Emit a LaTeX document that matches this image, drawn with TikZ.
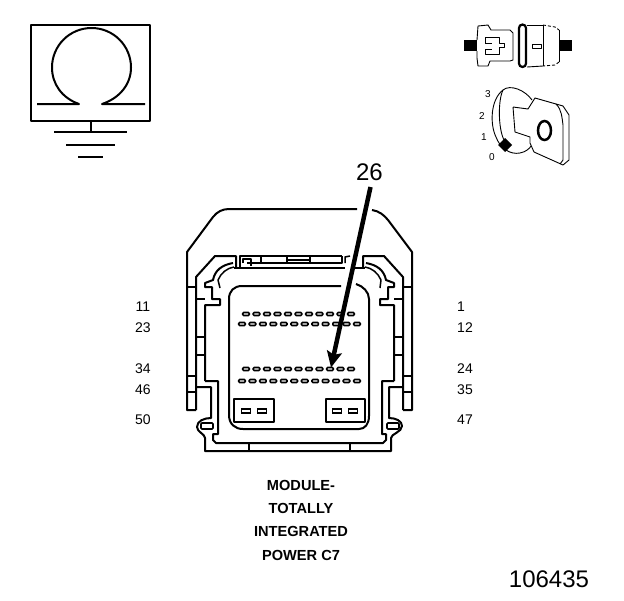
\documentclass[tikz,border=0pt]{standalone}
\usepackage{fontspec}
\setmainfont{Liberation Sans}
\usetikzlibrary{arrows.meta}
\tikzset{
  x=1pt,y=-1pt,
  line/.style={line width=2pt,black,line join=round},
  slot line/.style={line width=1.5pt,black,line join=round},
  thin line/.style={line width=0.9pt,black,line join=round},
  pinlabel/.style={font=\fontsize{14}{14}\selectfont,inner sep=0pt,anchor=center},
  title/.style={font=\fontsize{14.6}{14.6}\selectfont\bfseries,inner sep=0pt,anchor=center},
  big/.style={font=\fontsize{24}{24}\selectfont,inner sep=0pt,anchor=center},
  keynum/.style={font=\fontsize{10}{10}\selectfont,inner sep=0pt,anchor=center},
  pinhole/.style={draw=black,line width=1.6pt,fill=white,rounded corners=1pt,minimum width=6.5pt,minimum height=3pt,inner sep=0pt},
  bigpin/.style={draw=black,line width=1.6pt,fill=white,minimum width=9pt,minimum height=4.5pt,inner sep=0pt},
}
\begin{document}
\begin{tikzpicture}
\useasboundingbox (0,0) rectangle (624,600);
\fill[white] (0,0) rectangle (624,600);
% omega / ground
\draw[line] (31,25) rectangle (150,121);
\draw[line] (37,104) -- (79,104) .. controls (62,98) and (52,84) .. (52,67.5) arc[start angle=180,end angle=360,radius=39.5] .. controls (131,84) and (120,98) .. (102,104) -- (145,104);
\draw[line] (91,121) -- (91,132);
\draw[line] (54,132) -- (127,132);
\draw[line] (66,145) -- (115,145);
\draw[line] (78,157) -- (103,157);
% key switch
\fill (464,40) rectangle (477,51);
\fill (559,40) rectangle (572,51);
\draw[thin line] (477,40) -- (478,26) -- (488,25) -- (491,30) -- (510,30) -- (513,33) -- (513,60) -- (510,61) -- (490,61) -- (488,66) -- (478,66) -- (477,58) -- (477,51);
\draw[thin line] (485,44) -- (485,37) -- (499,37) -- (499,43) -- (504,43) -- (504,47) -- (499,47) -- (499,54) -- (485,54) -- (485,49) -- (492,49);
\draw[thin line] (485,43) -- (492,43);
\draw[line width=2.2pt,rounded corners=3.5pt] (519,24.5) rectangle (526,67);
\draw[thin line] (527,25) -- (543,25);
\draw[thin line,densely dashed] (543,25) -- (555,27) -- (559,30);
\draw[thin line] (559,30) -- (559,62);
\draw[thin line,densely dashed] (559,62) -- (555,65) -- (543,66);
\draw[thin line] (543,66) -- (527,67);
\draw[thin line] (543,25) -- (543,66);
\draw[thin line] (532,44) rectangle (541,48);
% ignition
\draw[thin line] (532,100) .. controls (525,90) and (510,84) .. (503,90) .. controls (490,100) and (490,125) .. (496,137) .. controls (500,148) and (510,155) .. (520,153) .. controls (526,152) and (530,148) .. (531,146);
\draw[thin line] (503,90) .. controls (498,100) and (498,128) .. (504,140);
\draw[thin line] (513,107) -- (528,109) -- (535,98) -- (563,106) -- (569,115) -- (569,160) -- (563,165) -- (534,152) -- (530,143) -- (530,137) -- (515,132) -- (513,107);
\draw[thin line] (556,104) .. controls (562,110) and (562,118) .. (563,125) -- (563,160) -- (560,164);
\draw[line width=2.5pt] (544.5,130.5) ellipse[x radius=6.5,y radius=9.5];
\fill (505,138) -- (512,145) -- (505,152) -- (498,145) -- cycle;
\node[keynum] (k3) at (488,94) {3};
\node[keynum] (k2) at (482,116) {2};
\node[keynum] (k1) at (484,137) {1};
\node[keynum] (k0) at (492,157) {0};
% connector outer shell
\draw[line] (196,410) -- (187,410) -- (187,252) -- (213,217) .. controls (217,212) and (222,209) .. (229,209) -- (357,209);
\draw[line] (372,210) .. controls (379,211) and (384,215) .. (388,220) -- (412,252) -- (412,410) -- (403,410);
\draw[line] (196,410) -- (196,277) -- (215,256) -- (236,256) -- (236,268);
\draw[line] (403,410) -- (403,277) -- (384,256) -- (363,256) -- (363,268);
% cross lines
\draw[line] (187,287) -- (196,287);
\draw[line] (196,299) -- (205,299);
\draw[line] (196,337) -- (205,337);
\draw[line] (196,355) -- (205,355);
\draw[line] (187,376) -- (196,376);
\draw[line] (187,392) -- (196,392);
\draw[line] (403,287) -- (412,287);
\draw[line] (394,299) -- (403,299);
\draw[line] (394,337) -- (403,337);
\draw[line] (394,355) -- (403,355);
\draw[line] (403,376) -- (412,376);
\draw[line] (403,392) -- (412,392);
% inner strip lines
\draw[line] (205,381) -- (205,305) -- (220,305) -- (220,299) -- (212,299) -- (212,287) -- (205,287) -- (205,283) -- (213,280) .. controls (215,270) and (222,265) .. (233,263);
\draw[line] (394,381) -- (394,305) -- (380,305) -- (380,299) -- (388,299) -- (388,287) -- (394,287) -- (394,283) -- (386,280) .. controls (384,270) and (377,265) .. (366,263);
\draw[slot line] (220,288) -- (218,280) .. controls (221,273) and (227,268) .. (234,267);
\draw[slot line] (380,288) -- (381,280) .. controls (378,273) and (372,268) .. (365,267);
% top slot
\draw[line] (234,268) -- (345,268);
\draw[line] (354,268) -- (365,268);
\draw[slot line] (240,268) -- (240,256) -- (342,256);
\draw[slot line] (243,263) -- (243,259) -- (251,259) -- (251,266);
\draw[slot line] (247,263) -- (251,263);
\draw[slot line] (261,257) -- (261,263);
\draw[slot line] (252,263) -- (342,263) -- (342,256);
\draw[slot line] (345,263) -- (345,257) -- (350,256);
\draw[slot line] (287,256) rectangle (310,263);
\draw[slot line] (287,260) -- (310,260);
% cavity
\draw[line] (341,286) -- (242,286) .. controls (234,286) and (229,291) .. (229,299) -- (229,415) .. controls (229,424) and (235,429) .. (243,429) -- (359,429) .. controls (365,429) and (369,424) .. (369,416) -- (369,299) .. controls (369,292) and (363,286) .. (356,284);
% lower shell
\draw[line] (205,381) -- (218,381) -- (218,434) -- (213,434) -- (213,440) -- (216,443) -- (383,443) -- (386,440) -- (386,434) -- (382,434) -- (382,381) -- (394,381);
\draw[line] (196,387) -- (211,387) -- (211,418) .. controls (204,418) and (197,421) .. (197,427) .. controls (197,432) and (205,434) .. (205,438) -- (205,451) -- (391,451) -- (391,438) .. controls (391,434) and (402,432) .. (402,426) .. controls (402,421) and (396,418) .. (389,418) -- (389,387) -- (403,387);
\draw[line] (249,443) -- (249,451);
\draw[line] (350,443) -- (350,451);
\draw[line width=1.6pt,rounded corners=1pt] (201,423) rectangle (213,429);
\draw[line width=1.6pt,rounded corners=1pt] (387,423) rectangle (399,429);
% pin rows
\foreach \i in {0,...,10} {
  \node[pinhole] (a\i) at (246+10.5*\i,314) {};
  \node[pinhole] (c\i) at (246+10.5*\i,369) {};
}
\foreach \i in {0,...,11} {
  \node[pinhole] (b\i) at (242+10.45*\i,324) {};
  \node[pinhole] (d\i) at (242+10.45*\i,381) {};
}
% big pin boxes
\draw[line] (234,399) rectangle (274,422);
\draw[line] (326,399) rectangle (365,422);
\node[bigpin] (p1) at (246,411) {};
\node[bigpin] (p2) at (262,411) {};
\node[bigpin] (p3) at (337,411) {};
\node[bigpin] (p4) at (353,411) {};
% arrow
\coordinate (arrowstart) at (370.5,187);
\coordinate (arrowtip) at (331,367.5);
\draw[line width=4.5pt,black,-{Stealth[length=16pt,width=15pt,inset=3pt]}] (arrowstart) -- (arrowtip);
% labels
\node[big] (n26) at (369.5,172) {26};
\node[big] (code) at (549,579) {106435};
\node[pinlabel] (l11) at (143,307) {11};
\node[pinlabel] (l23) at (143,328) {23};
\node[pinlabel] (l34) at (143,369) {34};
\node[pinlabel] (l46) at (143,390) {46};
\node[pinlabel] (l50) at (143,420) {50};
\node[pinlabel] (r1) at (461,307) {1};
\node[pinlabel] (r12) at (465,328) {12};
\node[pinlabel] (r24) at (465,369) {24};
\node[pinlabel] (r35) at (465,390) {35};
\node[pinlabel] (r47) at (465,420) {47};
\node[title] (t1) at (301,485) {MODULE-};
\node[title] (t2) at (301,508) {TOTALLY};
\node[title] (t3) at (301,531) {INTEGRATED};
\node[title] (t4) at (301,555) {POWER C7};
\end{tikzpicture}
\end{document}
